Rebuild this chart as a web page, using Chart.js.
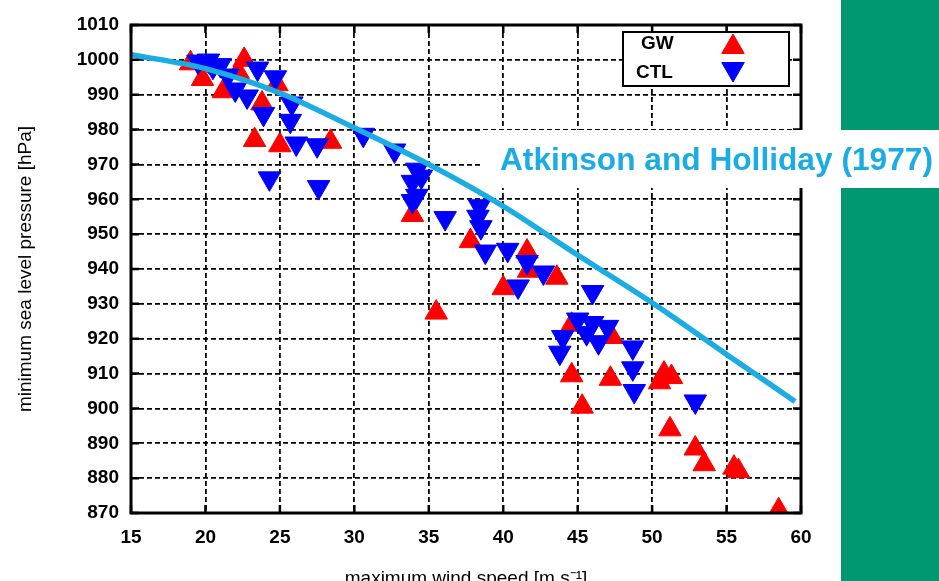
<!DOCTYPE html>
<html>
<head>
<meta charset="utf-8">
<script src="https://cdn.jsdelivr.net/npm/chart.js@4"></script>
<style>
html,body{margin:0;padding:0;background:#fff;}
#wrap{position:relative;width:939px;height:581px;}
canvas{display:block;}
</style>
</head>
<body>
<div id="wrap"><canvas id="c" width="939" height="581"></canvas></div>
<script>
// ---- data ----
const xTicks = [15, 20, 25, 30, 35, 40, 45, 50, 55, 60];
const yTicks = [870, 880, 890, 900, 910, 920, 930, 940, 950, 960, 970, 980, 990, 1000, 1010];

const gwWind = [19.0, 19.8, 21.2, 22.6, 22.2, 23.8, 24.8, 23.3, 25.0, 28.4, 33.9, 37.8, 41.6, 41.7, 43.6, 40.0, 35.5, 44.6, 47.3, 44.6, 47.2, 45.3, 50.8, 51.3, 50.5, 51.2, 52.9, 53.5, 55.5, 55.8, 58.5];
const gwPressure = [999, 994.5, 991, 1000, 996.5, 987.5, 993, 977, 975.5, 976.5, 955.5, 948, 945, 939.5, 937.5, 934.5, 927.5, 924, 920.5, 909.5, 908.5, 900.5, 910, 909, 907.5, 894, 888.5, 884, 883, 882, 870.8];

const ctlWind = [19.5, 20.2, 20.5, 21.0, 21.5, 22.0, 22.8, 23.5, 24.7, 23.9, 25.7, 25.8, 26.1, 27.5, 24.3, 27.6, 30.6, 32.7, 34.2, 33.9, 34.5, 34.2, 33.9, 36.1, 38.4, 38.3, 38.5, 38.8, 40.3, 41.6, 42.7, 41.0, 46.0, 45.0, 46.0, 47.0, 45.6, 46.4, 44.0, 43.8, 48.7, 48.7, 48.8, 52.9];
const ctlPressure = [999.5, 999.8, 998, 998.5, 995.5, 991.5, 989.5, 997.5, 995, 984.5, 982.5, 987.5, 976, 975.5, 966, 963.5, 978.5, 974, 968.5, 965, 966.5, 961, 959.5, 954.6, 958, 955, 952, 945, 945.5, 942, 939, 935, 933.4, 925.5, 924.5, 923.4, 921.6, 919, 920.5, 916, 917.5, 911.5, 905, 902];

const curveWind = [15, 20, 25, 30, 35, 40, 45, 50, 55, 59.6];
const curvePressure = [1001.5, 997.5, 990.5, 980.5, 970, 958, 944, 930.3, 915.5, 902];

const seriesNames = ["GW", "CTL"];
const curveLabel = "Atkinson and Holliday (1977)";
const xTitle = "maximum wind speed [m s\u207B\u00B9]";
const yTitle = "minimum sea level pressure [hPa]";

const RED = "#ff0000", BLUE = "#0000ff", CYAN = "#1aace3", GREEN = "#009870";
const FONT = "'Liberation Sans', Arial, sans-serif";
const MARK = 13;

const pts = (xs, ys) => xs.map((x, i) => ({x: x, y: ys[i]}));

function tri(ctx, x, y, r, down, color) {
  ctx.save();
  ctx.fillStyle = color; ctx.strokeStyle = color; ctx.lineWidth = 1;
  ctx.beginPath();
  const s = down ? -1 : 1;
  ctx.moveTo(x, y - s * r);
  ctx.lineTo(x + r * Math.sin(2 * Math.PI / 3), y + s * r / 2);
  ctx.lineTo(x - r * Math.sin(2 * Math.PI / 3), y + s * r / 2);
  ctx.closePath(); ctx.fill(); ctx.stroke();
  ctx.restore();
}

const decor = {
  id: 'decor',
  beforeDraw(chart) {
    const ctx = chart.ctx;
    ctx.save(); ctx.fillStyle = '#fff'; ctx.fillRect(0, 0, chart.width, chart.height); ctx.restore();
  },
  afterDraw(chart) {
    const ctx = chart.ctx, a = chart.chartArea;
    const xs = chart.scales.x, ys = chart.scales.y;
    ctx.save();
    // frame
    ctx.strokeStyle = '#000'; ctx.lineWidth = 3; ctx.setLineDash([]);
    ctx.strokeRect(a.left, a.top, a.right - a.left, a.bottom - a.top);
    // inner tick marks
    ctx.lineWidth = 2.5;
    ctx.beginPath();
    xTicks.forEach(v => {
      const px = xs.getPixelForValue(v);
      ctx.moveTo(px, a.bottom); ctx.lineTo(px, a.bottom - 8);
      ctx.moveTo(px, a.top); ctx.lineTo(px, a.top + 8);
    });
    yTicks.forEach(v => {
      const py = ys.getPixelForValue(v);
      ctx.moveTo(a.left, py); ctx.lineTo(a.left + 8, py);
      ctx.moveTo(a.right, py); ctx.lineTo(a.right - 8, py);
    });
    ctx.stroke();
    // axis titles
    ctx.fillStyle = '#000';
    ctx.font = "19px " + FONT;
    ctx.textAlign = 'center'; ctx.textBaseline = 'alphabetic';
    ctx.fillText(xTitle, (a.left + a.right) / 2, 584);
    ctx.save();
    ctx.translate(31, (a.top + a.bottom) / 2);
    ctx.rotate(-Math.PI / 2);
    ctx.fillText(yTitle, 0, 0);
    ctx.restore();
    // legend
    ctx.fillStyle = '#fff';
    ctx.fillRect(623, 32, 166, 54);
    ctx.strokeStyle = '#000'; ctx.lineWidth = 2;
    ctx.strokeRect(623, 32, 166, 54);
    ctx.fillStyle = '#000';
    ctx.font = "bold 19px " + FONT;
    ctx.textAlign = 'left'; ctx.textBaseline = 'middle';
    ctx.fillText(seriesNames[0], 641, 44);
    ctx.fillText(seriesNames[1], 636, 73);
    tri(ctx, 733, 47, MARK, false, RED);
    tri(ctx, 733, 69, MARK, true, BLUE);
    // green side bar
    ctx.fillStyle = GREEN;
    ctx.fillRect(841, 0, 98, 581);
    // label box
    ctx.fillStyle = '#fff';
    ctx.fillRect(480, 130, 459, 58);
    ctx.fillStyle = CYAN;
    let size = 26;
    ctx.font = "bold " + size + "px " + FONT;
    const w = ctx.measureText(curveLabel).width;
    size = size * 433 / w;
    ctx.font = "bold " + size.toFixed(2) + "px " + FONT;
    ctx.textAlign = 'left'; ctx.textBaseline = 'middle';
    ctx.fillText(curveLabel, 500, 161);
    ctx.restore();
  }
};

new Chart(document.getElementById('c'), {
  type: 'scatter',
  data: {
    datasets: [
      {
        type: 'line', label: curveLabel, data: pts(curveWind, curvePressure),
        borderColor: CYAN, borderWidth: 5.5, pointRadius: 0, fill: false,
        cubicInterpolationMode: 'monotone', order: 0
      },
      {
        label: seriesNames[1], data: pts(ctlWind, ctlPressure),
        pointStyle: 'triangle', rotation: 180, pointRadius: MARK,
        backgroundColor: BLUE, borderColor: BLUE, borderWidth: 1, order: 1
      },
      {
        label: seriesNames[0], data: pts(gwWind, gwPressure),
        pointStyle: 'triangle', pointRadius: MARK,
        backgroundColor: RED, borderColor: RED, borderWidth: 1, order: 2
      }
    ]
  },
  options: {
    responsive: false, animation: false, devicePixelRatio: 1,
    layout: {padding: {left: 0, right: 138, top: 25, bottom: 0}},
    plugins: {legend: {display: false}, tooltip: {enabled: false}},
    scales: {
      x: {
        type: 'linear', min: 15, max: 60,
        afterBuildTicks: s => { s.ticks = xTicks.map(v => ({value: v})); },
        afterFit: s => { s.height = 68; },
        grid: {color: '#000', lineWidth: 1.8, drawTicks: false},
        border: {display: false, dash: [5, 3]},
        ticks: {color: '#000', padding: 13, font: {family: FONT, size: 19, weight: 'bold'}, maxRotation: 0,
                callback: v => String(v)}
      },
      y: {
        type: 'linear', min: 870, max: 1010,
        afterBuildTicks: s => { s.ticks = yTicks.map(v => ({value: v})); },
        afterFit: s => { s.width = 131; },
        grid: {color: '#000', lineWidth: 1.8, drawTicks: false},
        border: {display: false, dash: [5, 3]},
        ticks: {color: '#000', padding: 12, font: {family: FONT, size: 19, weight: 'bold'},
                callback: v => String(v)}
      }
    }
  },
  plugins: [decor]
});
</script>
</body>
</html>
